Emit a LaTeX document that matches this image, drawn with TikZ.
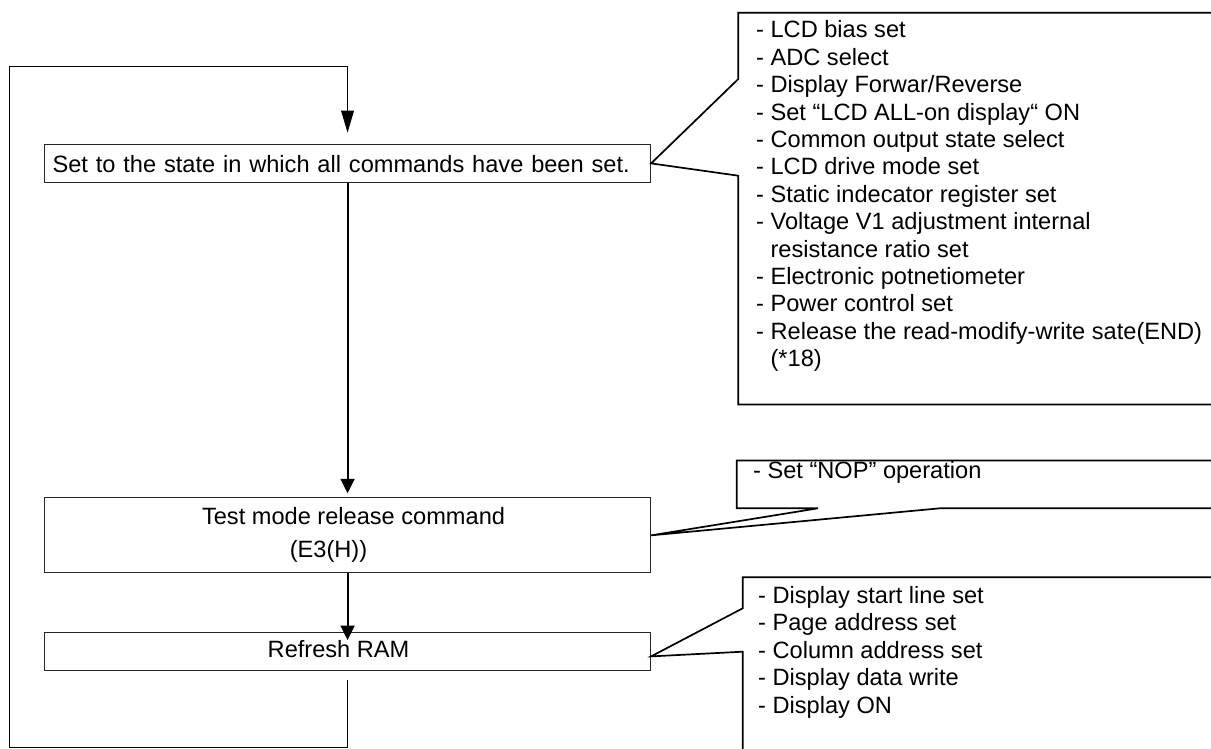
\documentclass[tikz,border=0pt]{standalone}
\usepackage{fontspec}
\setmainfont{Liberation Sans}
\usetikzlibrary{arrows.meta}
\begin{document}
\begin{tikzpicture}[x=1pt,y=-1pt,
  box/.style={draw=black!85, line width=1.1pt, rectangle, inner sep=0pt,
    minimum width=606pt, anchor=north west, font=\fontsize{23.6pt}{27.4pt}\selectfont},
  flow/.style={line width=2pt, -{Triangle[length=14.5pt,width=14pt]}},
  loopline/.style={line width=1pt, -{Triangle[length=22pt,width=12.7pt]}},
  callout/.style={line width=1.7pt, line join=miter},
  note/.style={align=left, inner sep=0pt, font=\fontsize{23.6pt}{27.4pt}\selectfont}]
\useasboundingbox (0,0) rectangle (1211,749);
\clip (0,0) rectangle (1211,749);

% process boxes
\node[box, minimum height=37.7pt, text width=590pt, align=left, inner xsep=8pt,
      text height=17.4pt, text depth=0pt] (b1) at (44,144)
  {Set to the state in which all commands have been set.};
\node[box, minimum height=75pt, align=center,
      font=\fontsize{23.6pt}{33pt}\selectfont] (b2) at (44,497.3)
  {\hspace*{12pt}Test mode release command\\(E3(H))\hspace*{38pt}};
\node[box, minimum height=37.7pt, text height=12.6pt, text depth=0pt] (b3) at (44,632)
  {Refresh RAM\hspace*{18pt}};

% flow connectors
\draw[flow] (b1.south) -- ([yshift=4pt]b2.north);
\draw[flow] (b2.south) -- ([yshift=-8pt]b3.north);

% loop back
\coordinate (lb) at (9,747.7);
\coordinate (lt) at (9,66.7);
\draw[loopline] ([yshift=-9.3pt]b3.south) |- (lb) -- (lt) -| ([yshift=11.3pt]b1.north);

% callout 1
\draw[callout] (1216,12.7) -- (738.3,12.7) -- (738.3,79) -- (b1.east)
  -- (738.3,175.7) -- (738.3,404.5) -- (1216,404.5);
\node[note, anchor=north west] (n1) at (756,20.6)
  {- LCD bias set\\
   - ADC select\\
   - Display Forwar/Reverse\\
   - Set “LCD ALL-on display“ ON\\
   - Common output state select\\
   - LCD drive mode set\\
   - Static indecator register set\\
   - Voltage V1 adjustment internal\\
   \phantom{- }resistance ratio set\\
   - Electronic potnetiometer\\
   - Power control set\\
   - Release the read-modify-write sate(END)\\
   \phantom{- }(*18)};

% callout 2
\draw[callout] (1216,460.5) -- (736.7,460.5) -- (736.7,508.3) -- (818,508.3)
  -- (b2.east) -- (940,508.3) -- (1216,508.3);
\node[note, anchor=base west] (n2) at (753,478.3) {- Set “NOP” operation};

% callout 3
\draw[callout] (1216,577.3) -- (742.7,577.3) -- (742.7,608.3)
  -- ([yshift=-5pt]b3.east) -- (742.7,651.7) -- (742.7,760);
\node[note, anchor=north west] (n3) at (758,586.1)
  {- Display start line set\\
   - Page address set\\
   - Column address set\\
   - Display data write\\
   - Display ON};
\end{tikzpicture}
\end{document}
